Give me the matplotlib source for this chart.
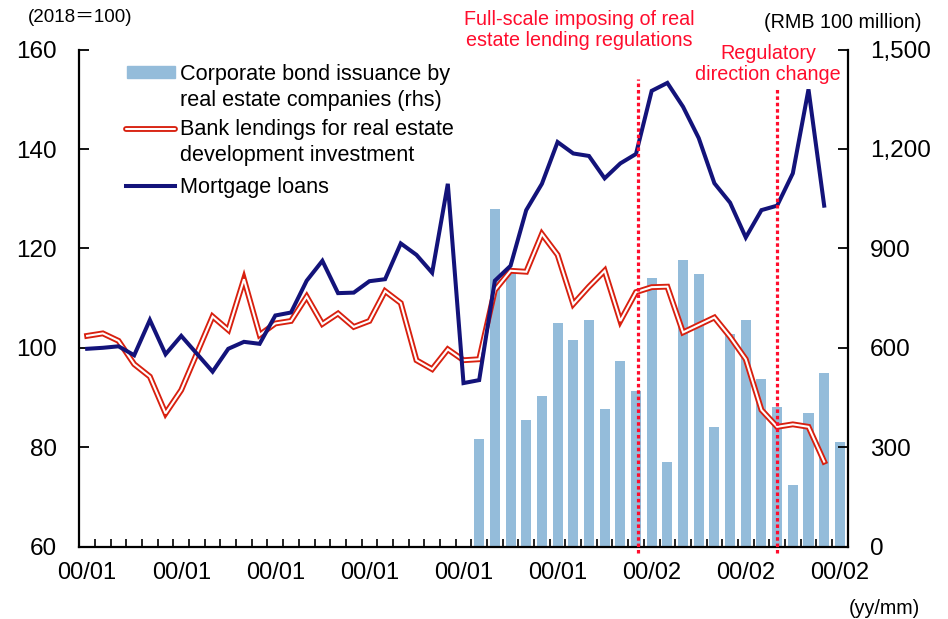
import matplotlib
matplotlib.use('Agg')
import matplotlib.pyplot as plt
from matplotlib import font_manager
from matplotlib.lines import Line2D
from matplotlib.patches import Rectangle
import numpy as np

_names = {f.name for f in font_manager.fontManager.ttflist}
BASE = 'Liberation Sans' if 'Liberation Sans' in _names else 'DejaVu Sans'
plt.rcParams['font.family'] = [BASE, 'DejaVu Sans']

# ---- data -------------------------------------------------------------
n_months = 49
tick_labels = ['00/01'] * 6 + ['00/02'] * 3
tick_every = 6

# Mortgage loans (2018 = 100)
mortgage = [99.8, 100.0, 100.3, 98.5, 105.6, 98.7, 102.4, 98.8, 95.2, 99.8,
            101.2, 100.8, 106.5, 107.1, 113.5, 117.5, 111.0, 111.1, 113.4, 113.8,
            121.0, 118.7, 115.1, 133.0, 92.9, 93.5, 113.5, 116.5, 127.7, 133.0,
            141.4, 139.1, 138.6, 134.1, 137.1, 139.0, 151.7, 153.3, 148.5, 142.2,
            133.1, 129.2, 122.2, 127.7, 128.6, 135.1, 152.0, 128.6]

# Bank lendings for real estate development investment (2018 = 100)
bank = [102.4, 102.9, 101.4, 96.7, 94.2, 86.8, 91.5, 98.9, 106.3, 103.6,
        113.8, 102.6, 104.9, 105.4, 110.3, 104.8, 106.9, 104.2, 105.4, 111.4,
        109.0, 97.5, 95.7, 99.7, 97.5, 97.7, 111.6, 115.5, 115.3, 122.9,
        118.7, 108.8, 112.3, 115.5, 105.4, 111.2, 112.2, 112.3, 103.1, 104.6,
        106.1, 102.2, 97.7, 87.5, 84.1, 84.6, 84.1, 77.1]

# Corporate bond issuance by real estate companies (RMB 100 million)
bond_start = 25
bond = [325, 1019, 830, 382, 455, 674, 623, 683, 415, 559,
        471, 811, 256, 865, 824, 361, 642, 683, 506, 420,
        186, 402, 523, 317]

# Policy events (month index)
event_full_scale = 35.15
event_change = 44.0

# ---- styling ----------------------------------------------------------
BAR_C = '#94bcda'
NAVY = '#13137a'
RED = '#d8200f'
EVENT_RED = '#ff0d2d'
RED_OUT, RED_IN, NAVY_W = 4.2, 1.5, 2.9

W, H = 948, 619
fig = plt.figure(figsize=(W / 100, H / 100), dpi=100)

def fx(px):
    return px / W

def fy(py):
    return 1 - py / H

ax = fig.add_axes([fx(79.3), fy(546.6), fx(847.7) - fx(79.3), fy(49.6) - fy(546.6)])
ax2 = ax.twinx()
ax.set_zorder(ax2.get_zorder() + 1)
ax.patch.set_visible(False)

# bars (right axis)
bx = np.arange(bond_start, bond_start + len(bond))
ax2.bar(bx, bond, width=0.64, color=BAR_C, edgecolor='none', zorder=1)

# lines (left axis)
lx = np.arange(len(mortgage))
ax.plot(lx, bank, color=RED, lw=RED_OUT, solid_joinstyle='miter', zorder=3)
ax.plot(lx, bank, color='white', lw=RED_IN, solid_joinstyle='miter', zorder=4)
ax.plot(lx, mortgage, color=NAVY, lw=NAVY_W, solid_joinstyle='miter', zorder=5)

# event markers
for xe, ytop in [(event_full_scale, 0.941), (event_change, 0.923)]:
    ax.plot([xe, xe], [-0.012, ytop], transform=ax.get_xaxis_transform(),
            color=EVENT_RED, lw=2.3, linestyle=(0, (1.1, 0.9)),
            dash_capstyle='butt', clip_on=False, zorder=6)

# axes limits / ticks
ax.set_xlim(-0.5, n_months - 0.5)
ax.set_ylim(60, 160)
ax2.set_ylim(0, 1500)
ax.set_yticks([60, 80, 100, 120, 140, 160])
ax2.set_yticks([0, 300, 600, 900, 1200, 1500])
ax2.set_yticklabels(['0', '300', '600', '900', '1,200', '1,500'])

ax.set_xticks(np.arange(-0.5, n_months, 1.0))
ax.set_xticklabels([])
ax.set_xticks(np.arange(0, n_months, tick_every), minor=True)
ax.set_xticklabels(tick_labels, minor=True)
ax.tick_params(axis='x', which='major', direction='in', length=5.5, width=1.2, bottom=True, top=False)
ax.tick_params(axis='x', which='minor', length=0, pad=11, labelsize=17)
ax.tick_params(axis='y', direction='in', length=7, width=1.3, pad=16, labelsize=17.5)
ax2.tick_params(axis='y', direction='in', length=7, width=1.3, pad=16, labelsize=17.5)

for a in (ax, ax2):
    a.spines['top'].set_visible(False)
    for s in ('left', 'right', 'bottom'):
        a.spines[s].set_linewidth(1.6)
ax.spines['right'].set_visible(False)
ax2.spines['left'].set_visible(False)
ax2.spines['bottom'].set_visible(False)

# unit labels
fig.text(fx(28), fy(18), '(2018＝100)', fontsize=13.5, va='center', ha='left',
         family=[BASE, 'Noto Sans CJK JP', 'DejaVu Sans'])
fig.text(fx(921), fy(22), '(RMB 100 million)', fontsize=14.2, va='center', ha='right')
fig.text(fx(920), fy(608), '(yy/mm)', fontsize=14.2, va='center', ha='right')

# event annotations
fig.text(fx(579), fy(30), 'Full-scale imposing of real\nestate lending regulations',
         color=EVENT_RED, fontsize=14.2, ha='center', va='center', linespacing=1.1)
fig.text(fx(768), fy(64), 'Regulatory\ndirection change',
         color=EVENT_RED, fontsize=14.2, ha='center', va='center', linespacing=1.1)

# legend
LFS = 15.6
fig.patches.append(Rectangle((fx(127), fy(78.3)), fx(175) - fx(127), fy(65.7) - fy(78.3),
                             transform=fig.transFigure, color=BAR_C, figure=fig))
fig.lines.append(Line2D([fx(126), fx(175)], [fy(128.5)] * 2, transform=fig.transFigure,
                        color=RED, lw=RED_OUT, solid_capstyle='round', figure=fig))
fig.lines.append(Line2D([fx(126), fx(175)], [fy(128.5)] * 2, transform=fig.transFigure,
                        color='white', lw=RED_IN, solid_capstyle='round', figure=fig))
fig.lines.append(Line2D([fx(126), fx(175)], [fy(186)] * 2, transform=fig.transFigure,
                        color=NAVY, lw=NAVY_W, figure=fig))
legend_lines = [
    ('Corporate bond issuance by', 80),
    ('real estate companies (rhs)', 106),
    ('Bank lendings for real estate', 135),
    ('development investment', 161),
    ('Mortgage loans', 192.5),
]
for txt, base in legend_lines:
    fig.text(fx(180), fy(base), txt, fontsize=LFS, ha='left', va='baseline')

fig.savefig('out.png', dpi=100)
